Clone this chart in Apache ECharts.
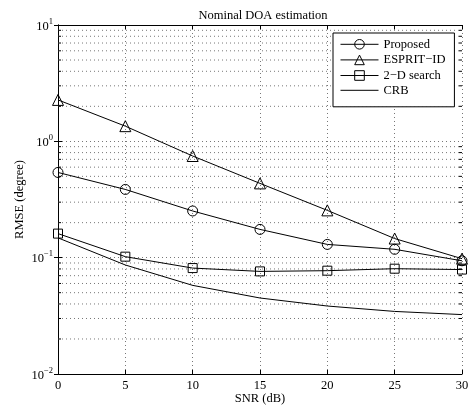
<!DOCTYPE html>
<html>
<head>
<meta charset="utf-8">
<script src="https://cdn.jsdelivr.net/npm/echarts@6/dist/echarts.min.js"></script>
<style>
  html, body { margin: 0; padding: 0; background: #fff; }
  #chart { width: 469px; height: 409px; }
</style>
</head>
<body>
<div id="chart"></div>
<script>
// SNR values (dB)
const snr = [0, 5, 10, 15, 20, 25, 30];
// RMSE (degree)
const proposed = [0.54, 0.386, 0.252, 0.175, 0.13, 0.118, 0.094];
const espritId = [2.27, 1.35, 0.748, 0.435, 0.255, 0.146, 0.098];
const search2d = [0.161, 0.102, 0.0814, 0.0762, 0.0773, 0.0804, 0.079];
const crb = [0.148, 0.0865, 0.0578, 0.045, 0.0384, 0.0345, 0.0324];
// log minor grid positions
const minorTicks = [0.02, 0.03, 0.04, 0.05, 0.06, 0.07, 0.08, 0.09,
  0.2, 0.3, 0.4, 0.5, 0.6, 0.7, 0.8, 0.9,
  2, 3, 4, 5, 6, 7, 8, 9];

const font = 'Liberation Serif';
const fs = 12.5;
const dotted = { color: '#777', width: 1, type: [1, 3] };

const pairs = arr => snr.map((x, i) => [x, arr[i]]);

const expLabel = v => {
  const e = Math.round(Math.log10(v));
  return '{b|10}{s|' + String(e).replace('-', '\u2212') + '}';
};

const markerStyle = { color: 'none', borderColor: '#000', borderWidth: 1 };

const chart = echarts.init(document.getElementById('chart'));
chart.setOption({
  animation: false,
  backgroundColor: '#fff',
  textStyle: { fontFamily: font, color: '#000' },
  title: {
    text: 'Nominal DOA estimation',
    left: 258, top: 4, textAlign: 'center',
    textStyle: { fontFamily: font, fontSize: fs, fontWeight: 'normal', color: '#000' }
  },
  grid: { left: 58, top: 25, right: 7, bottom: 35, outerBoundsMode: 'none', containLabel: false },
  legend: {
    data: [
      { name: 'Proposed' },
      { name: 'ESPRIT\u2212ID' },
      { name: '2\u2212D search' },
      { name: 'CRB', icon: 'path://M0,0M0,6L38,6M38,12' }
    ],
    orient: 'vertical',
    left: 333, top: 33,
    itemWidth: 38, itemHeight: 12, itemGap: 1,
    padding: [4, 9, 10, 7],
    backgroundColor: '#fff',
    borderColor: '#000', borderWidth: 1, borderRadius: 0,
    lineStyle: { width: 1, color: '#000' },
    itemStyle: { borderWidth: 1, borderColor: '#000' },
    textStyle: { fontFamily: font, fontSize: fs, color: '#000' }
  },
  xAxis: [{
    type: 'value', min: 0, max: 30, interval: 5,
    name: 'SNR (dB)', nameLocation: 'middle', nameGap: 18, nameMoveOverlap: false,
    nameTextStyle: { fontFamily: font, fontSize: fs, color: '#000' },
    axisLine: { lineStyle: { color: '#000' } },
    axisTick: { inside: true, length: 4, lineStyle: { color: '#000' } },
    axisLabel: { fontFamily: font, fontSize: fs, color: '#000', margin: 5 },
    splitLine: { show: true, lineStyle: dotted }
  }, {
    type: 'value', min: 0, max: 30, interval: 5, position: 'top',
    axisLine: { lineStyle: { color: '#000' } },
    axisTick: { inside: true, length: 4, lineStyle: { color: '#000' } },
    axisLabel: { show: false },
    splitLine: { show: false }
  }],
  yAxis: [{
    type: 'log', logBase: 10, min: 0.01, max: 10, interval: 1,
    name: 'RMSE (degree)', nameLocation: 'middle', nameGap: 32, nameMoveOverlap: false,
    nameTextStyle: { fontFamily: font, fontSize: fs, color: '#000' },
    axisLine: { show: true, lineStyle: { color: '#000' } },
    axisTick: { show: true, inside: true, length: 4, lineStyle: { color: '#000' } },
    axisLabel: {
      margin: 5, formatter: expLabel,
      rich: {
        b: { fontFamily: font, fontSize: fs, color: '#000', lineHeight: 16, verticalAlign: 'bottom' },
        s: { fontFamily: font, fontSize: 8.5, color: '#000', lineHeight: 16, verticalAlign: 'top' }
      }
    },
    splitLine: { show: true, lineStyle: dotted }
  }, {
    type: 'log', logBase: 10, min: 0.01, max: 10, interval: 1, position: 'right',
    axisLine: { show: true, lineStyle: { color: '#000' } },
    axisTick: { show: true, inside: true, length: 4, lineStyle: { color: '#000' } },
    axisLabel: { show: false },
    splitLine: { show: false }
  }],
  series: [{
    // minor log grid and minor ticks
    type: 'custom',
    silent: true,
    z: 1,
    data: minorTicks.map(v => [0, v]),
    renderItem: (params, api) => {
      const v = api.value(1);
      const a = api.coord([0, v]);
      const b = api.coord([30, v]);
      return {
        type: 'group',
        children: [
          { type: 'line', shape: { x1: a[0], y1: a[1], x2: b[0], y2: b[1] }, style: { stroke: '#777', lineWidth: 1, lineDash: [1, 3] } },
          { type: 'line', shape: { x1: a[0], y1: a[1], x2: a[0] + 3, y2: a[1] }, style: { stroke: '#000', lineWidth: 1 } },
          { type: 'line', shape: { x1: b[0] - 3, y1: b[1], x2: b[0], y2: b[1] }, style: { stroke: '#000', lineWidth: 1 } }
        ]
      };
    }
  }, {
    name: 'Proposed', type: 'line', z: 3, data: pairs(proposed),
    symbol: 'circle', symbolSize: 10,
    lineStyle: { color: '#000', width: 1 }, itemStyle: markerStyle
  }, {
    name: 'ESPRIT\u2212ID', type: 'line', z: 3, data: pairs(espritId),
    symbol: 'triangle', symbolSize: 11,
    lineStyle: { color: '#000', width: 1 }, itemStyle: markerStyle
  }, {
    name: '2\u2212D search', type: 'line', z: 3, data: pairs(search2d),
    symbol: 'rect', symbolSize: 9,
    lineStyle: { color: '#000', width: 1 }, itemStyle: markerStyle
  }, {
    name: 'CRB', type: 'line', z: 3, data: pairs(crb),
    symbol: 'none',
    lineStyle: { color: '#000', width: 1 }, itemStyle: { color: '#000' }
  }]
});
</script>
</body>
</html>
